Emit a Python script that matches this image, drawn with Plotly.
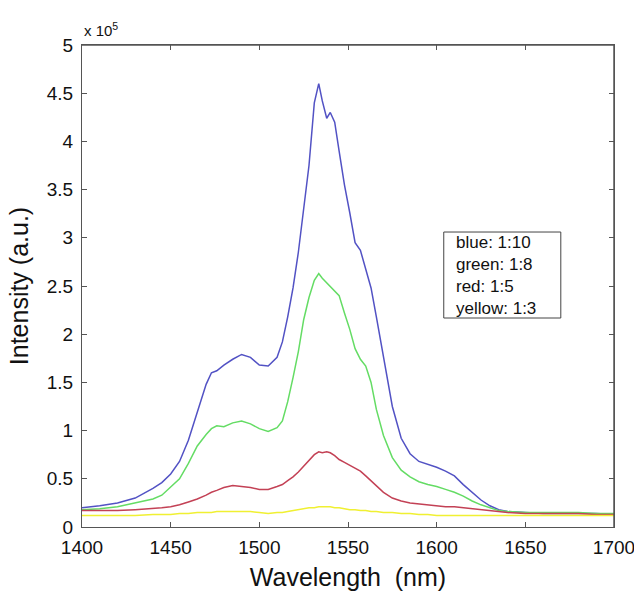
import plotly.graph_objects as go

# Wavelength grid (nm)
wavelength = [1400, 1410, 1420, 1430, 1440, 1445, 1450, 1455, 1460, 1465, 1470, 1473, 1476,
              1480, 1485, 1490, 1495, 1500, 1505, 1510, 1513, 1516, 1519, 1522, 1525, 1528,
              1531, 1533.5, 1535.5, 1538, 1540, 1542.5, 1545, 1548, 1551, 1554, 1557, 1560,
              1563, 1566, 1570, 1575, 1580, 1585, 1590, 1595, 1600, 1605, 1610, 1615, 1620,
              1625, 1630, 1635, 1640, 1650, 1660, 1670, 1680, 1690, 1700]

# Intensity in units of 1e5 (a.u.)
blue_1_10 = [0.20, 0.22, 0.25, 0.30, 0.40, 0.46, 0.55, 0.68, 0.90, 1.18, 1.48, 1.60, 1.62,
             1.68, 1.74, 1.79, 1.76, 1.68, 1.67, 1.76, 1.92, 2.18, 2.48, 2.85, 3.30, 3.75,
             4.40, 4.60, 4.42, 4.24, 4.30, 4.20, 3.90, 3.55, 3.26, 2.95, 2.87, 2.68,
             2.48, 2.18, 1.75, 1.25, 0.92, 0.76, 0.68, 0.65, 0.62, 0.58, 0.53, 0.44, 0.36,
             0.28, 0.22, 0.18, 0.16, 0.15, 0.14, 0.14, 0.14, 0.14, 0.13]

green_1_8 = [0.18, 0.19, 0.21, 0.25, 0.29, 0.33, 0.42, 0.50, 0.66, 0.84, 0.96, 1.02, 1.05,
             1.04, 1.08, 1.10, 1.07, 1.02, 0.99, 1.03, 1.10, 1.30, 1.55, 1.82, 2.15, 2.38,
             2.56, 2.63, 2.58, 2.53, 2.50, 2.45, 2.40, 2.22, 2.05, 1.85, 1.74, 1.67,
             1.50, 1.22, 0.95, 0.72, 0.59, 0.52, 0.47, 0.44, 0.42, 0.39, 0.36, 0.32, 0.27,
             0.23, 0.20, 0.17, 0.16, 0.15, 0.15, 0.15, 0.15, 0.14, 0.14]

red_1_5 = [0.17, 0.17, 0.17, 0.18, 0.19, 0.20, 0.21, 0.23, 0.26, 0.29, 0.33, 0.36, 0.38,
           0.41, 0.43, 0.42, 0.41, 0.39, 0.39, 0.42, 0.44, 0.48, 0.52, 0.57, 0.63, 0.68,
           0.75, 0.78, 0.77, 0.78, 0.77, 0.74, 0.70, 0.67, 0.64, 0.61, 0.58, 0.53,
           0.48, 0.42, 0.36, 0.30, 0.27, 0.25, 0.24, 0.23, 0.22, 0.21, 0.21, 0.20, 0.19,
           0.18, 0.17, 0.16, 0.15, 0.14, 0.14, 0.14, 0.14, 0.13, 0.13]

yellow_1_3 = [0.12, 0.12, 0.12, 0.12, 0.13, 0.13, 0.13, 0.14, 0.14, 0.15, 0.15, 0.15, 0.16,
              0.16, 0.16, 0.16, 0.16, 0.15, 0.14, 0.15, 0.15, 0.16, 0.17, 0.18, 0.19, 0.20,
              0.20, 0.21, 0.21, 0.21, 0.21, 0.20, 0.20, 0.19, 0.18, 0.18, 0.17, 0.17,
              0.16, 0.16, 0.15, 0.15, 0.14, 0.14, 0.13, 0.13, 0.12, 0.12, 0.12, 0.12, 0.12,
              0.12, 0.12, 0.12, 0.12, 0.12, 0.12, 0.12, 0.12, 0.12, 0.12]

x_ticks = [1400, 1450, 1500, 1550, 1600, 1650, 1700]
legend_lines = ["blue: 1:10", "green: 1:8", "red: 1:5", "yellow: 1:3"]

series = [
    ("blue", blue_1_10, "rgb(82,82,196)"),
    ("green", green_1_8, "rgb(100,220,100)"),
    ("red", red_1_5, "rgb(195,65,85)"),
    ("yellow", yellow_1_3, "rgb(240,240,50)"),
]

FONT = "Liberation Sans, Arial, sans-serif"

fig = go.Figure()
for name, vals, col in series:
    fig.add_trace(go.Scatter(x=wavelength, y=vals, mode="lines", name=name,
                             line=dict(color=col, width=1.5)))

axis_common = dict(showline=True, linecolor="#555555", linewidth=1, mirror="ticks",
                   ticks="inside", ticklen=5, tickcolor="#555555", showgrid=False,
                   zeroline=False, automargin=False, ticklabeloverflow="allow",
                   tickfont=dict(family=FONT, size=19, color="#111111"))

fig.update_xaxes(range=[1400, 1700], tickvals=x_ticks, ticklabelstandoff=3,
                 title=dict(text="Wavelength  (nm)", font=dict(family=FONT, size=25, color="#111111"),
                            standoff=18),
                 **axis_common)
fig.update_yaxes(range=[0, 5], dtick=0.5, tick0=0, ticklabelstandoff=4,
                 title=dict(text="Intensity (a.u.)", font=dict(family=FONT, size=25, color="#111111"),
                            standoff=11),
                 **axis_common)

# plot frame (drawn as explicit lines along top and right edges)
fig.add_shape(type="line", xref="paper", yref="paper", x0=0, x1=1, y0=1, y1=1,
              line=dict(color="#555555", width=1.5), layer="above")
fig.add_shape(type="line", xref="paper", yref="paper", x0=1, x1=1, y0=0, y1=1,
              line=dict(color="#555555", width=1.5), layer="above")

# scale factor label
fig.add_annotation(x=0.0, y=1.0, xref="paper", yref="paper", xanchor="left", yanchor="bottom",
                   text="x 10<sup>5</sup>", showarrow=False, yshift=4,
                   font=dict(family=FONT, size=15, color="#111111"))

# text box
fig.add_shape(type="rect", xref="paper", yref="paper", x0=0.680, x1=0.900, y0=0.4336, y1=0.612,
              line=dict(color="#444444", width=1), fillcolor="white", layer="above")
fig.add_annotation(x=0.6987, y=0.5228, xref="paper", yref="paper", xanchor="left", yanchor="middle",
                   text="<br>".join(legend_lines), align="left", showarrow=False,
                   font=dict(family=FONT, size=17, color="#111111"))

fig.update_layout(width=634, height=591, margin=dict(l=82, r=20, t=45, b=64),
                  paper_bgcolor="white", plot_bgcolor="white", showlegend=False)

fig.write_html("out.html", config={"displayModeBar": False},
               post_script="document.body.style.margin='0px';document.body.style.overflow='hidden';")
